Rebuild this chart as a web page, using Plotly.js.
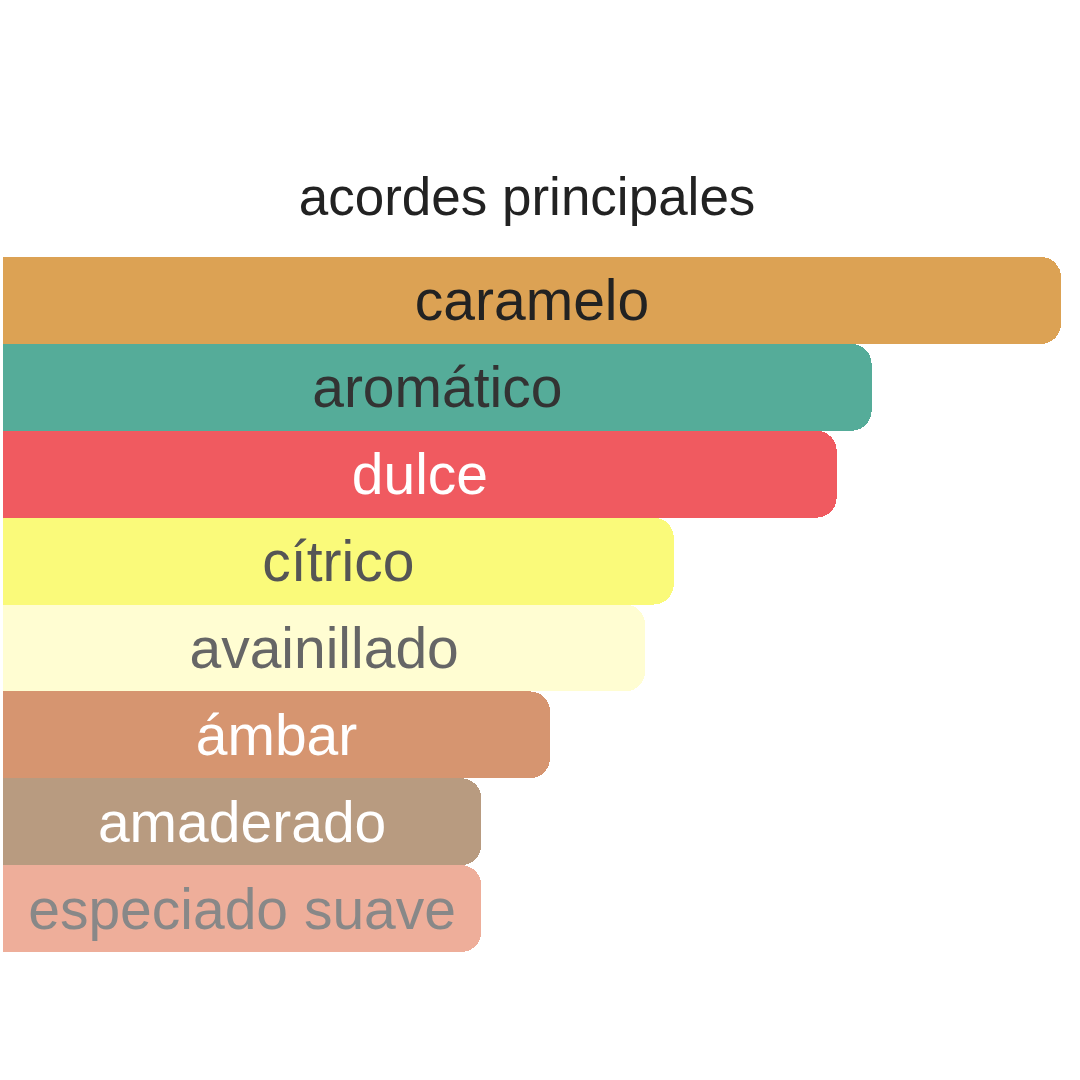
<!DOCTYPE html>
<html>
<head>
<meta charset="utf-8">
<script src="https://cdn.plot.ly/plotly-3.0.1.min.js"></script>
<style>
  html, body { margin: 0; padding: 0; background: #fff; }
</style>
</head>
<body>
<div id="chart" style="width:1080px;height:1080px;"></div>
<script>
  // acordes principales, largest first
  var acordes = ["caramelo", "aromático", "dulce", "cítrico", "avainillado", "ámbar", "amaderado", "especiado suave"];
  var valores = [100, 82.1, 78.8, 63.4, 60.7, 51.7, 45.2, 45.2];
  var colores = ["#DCA254", "#55AC99", "#F05A60", "#FAFA7A", "#FFFDD2", "#D69570", "#B89B80", "#EEAE9A"];
  var coloresTexto = ["#222222", "#333333", "#ffffff", "#555555", "#666666", "#ffffff", "#ffffff", "#888888"];

  var data = [
    {
      type: "bar",
      orientation: "h",
      x: valores,
      y: acordes,
      text: acordes,
      textposition: "inside",
      insidetextanchor: "middle",
      constraintext: "none",
      textfont: {
        family: "Liberation Sans, Arial, sans-serif",
        size: 57,
        color: coloresTexto,
      },
      marker: {
        color: colores,
        cornerradius: 20,
        line: { width: 0 },
      },
      hoverinfo: "none",
    },
  ];

  var layout = {
    width: 1080,
    height: 1080,
    showlegend: false,
    paper_bgcolor: "#ffffff",
    plot_bgcolor: "#ffffff",
    bargap: 0,
    title: {
      text: "acordes principales",
      font: { family: "Liberation Sans, Arial, sans-serif", size: 53, color: "#222222" },
      xref: "container",
      yref: "container",
      x: 0.488,
      xanchor: "center",
      y: 0.818,
      yanchor: "middle",
    },
    margin: { t: 257, b: 128, l: 3, r: 19, pad: 0 },
    xaxis: {
      range: [0, 100],
      visible: false,
      showgrid: false,
      zeroline: false,
      fixedrange: true,
    },
    yaxis: {
      autorange: "reversed",
      visible: false,
      showgrid: false,
      fixedrange: true,
    },
  };

  Plotly.newPlot("chart", data, layout, { displayModeBar: false, staticPlot: true });
</script>
</body>
</html>
